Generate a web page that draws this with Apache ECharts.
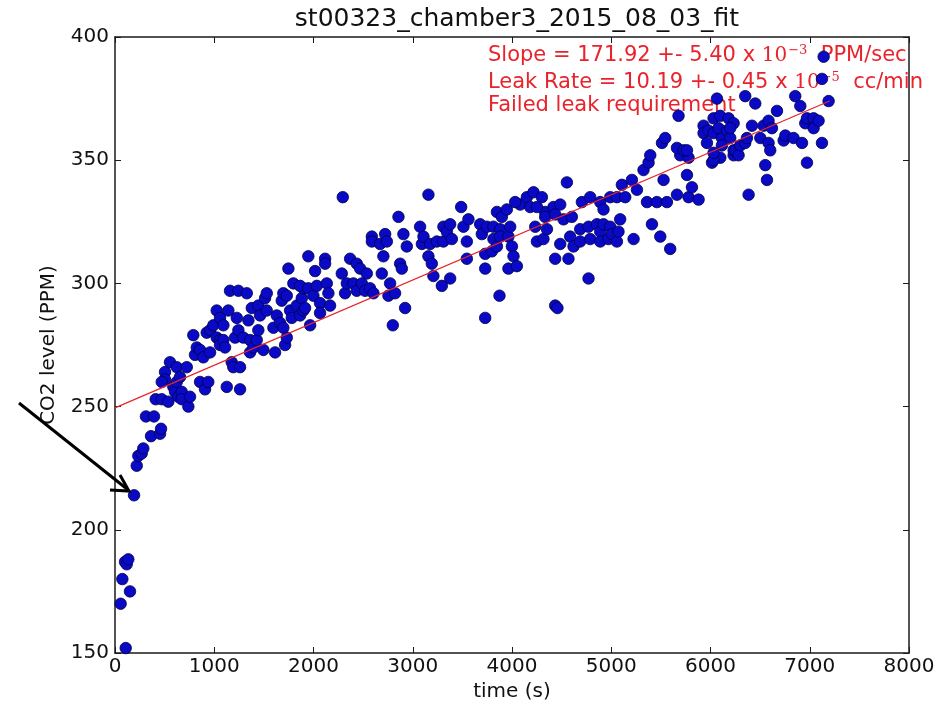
<!DOCTYPE html>
<html>
<head>
<meta charset="utf-8">
<script src="https://cdn.jsdelivr.net/npm/echarts@6/dist/echarts.min.js"></script>
<style>
  html, body { margin: 0; padding: 0; background: #fff; }
  #chart { width: 946px; height: 712px; }
</style>
</head>
<body>
<div id="chart"></div>
<script>
const chartTitle = 'st00323_chamber3_2015_08_03_fit'
const xTicks = [0, 1000, 2000, 3000, 4000, 5000, 6000, 7000, 8000]
const yTicks = [150, 200, 250, 300, 350, 400]

// [time (s), CO2 (PPM)]
const earlyPoints = [
  [57, 170], [74, 180], [101, 187], [108, 152], [118, 186], [134, 188], [151, 175], [192, 214],
  [219, 226], [235, 230], [269, 231], [285, 233], [312, 246], [363, 238], [393, 246], [410, 253],
  [454, 239], [464, 241], [471, 253], [537, 252]
]
const risePoints = [
  [504, 264], [504, 261], [471, 260], [554, 268], [588, 258], [605, 256], [622, 266], [622, 260],
  [638, 254], [655, 262], [672, 256], [672, 253], [723, 266], [739, 250], [756, 254], [789, 279],
  [806, 271], [824, 274], [857, 273], [857, 260], [890, 270], [907, 257], [924, 280], [940, 260],
  [958, 281], [958, 272], [991, 283], [1025, 289], [1025, 278], [1058, 286], [1058, 277], [1058, 275],
  [1092, 283], [1092, 277], [1109, 274], [1126, 258], [1142, 289], [1159, 297], [1176, 268], [1192, 266],
  [1210, 278], [1227, 286], [1243, 297], [1243, 281], [1260, 266], [1260, 257], [1293, 278], [1328, 296],
  [1344, 285], [1361, 277], [1361, 272], [1378, 290], [1394, 274], [1428, 277], [1444, 291], [1444, 281],
  [1462, 287], [1495, 273], [1512, 294], [1529, 296], [1529, 289], [1596, 282], [1613, 272], [1630, 287],
  [1663, 284], [1680, 293], [1696, 296], [1696, 282], [1714, 275], [1731, 295], [1731, 278], [1747, 306],
  [1764, 289], [1781, 286], [1797, 300], [1832, 291], [1865, 287], [1882, 294], [1898, 298], [1898, 289],
  [1948, 311]
]
const midPoints = [
  [1865, 299], [1915, 290], [1948, 298], [1966, 283], [1999, 295], [2016, 305], [2033, 299], [2066, 292],
  [2066, 288], [2117, 310], [2117, 308], [2134, 300], [2150, 296], [2167, 291], [2285, 304], [2295, 335],
  [2318, 296], [2336, 300], [2369, 310], [2402, 300], [2436, 308], [2436, 297], [2470, 306], [2487, 300],
  [2520, 297], [2537, 304], [2570, 298], [2588, 319], [2588, 317], [2604, 296], [2671, 316], [2688, 304],
  [2704, 311], [2722, 320], [2739, 317], [2755, 295], [2772, 300], [2799, 283], [2822, 296], [2856, 327],
  [2873, 308], [2890, 306], [2906, 320], [2923, 290], [2940, 315], [3074, 323], [3092, 316], [3108, 319],
  [3158, 336], [3158, 311], [3175, 316], [3192, 308], [3208, 303], [3243, 317], [3293, 299], [3309, 317],
  [3309, 323], [3344, 321], [3377, 324], [3377, 302], [3394, 318], [3488, 331], [3511, 323], [3545, 317],
  [3545, 310], [3561, 326], [3679, 324], [3696, 320], [3730, 312], [3730, 306], [3730, 286], [3747, 323],
  [3797, 313], [3813, 323], [3813, 318], [3848, 329], [3848, 315], [3874, 295], [3881, 322], [3881, 319],
  [3898, 327], [3948, 330], [3964, 319], [3964, 306], [3982, 323], [3999, 315], [4015, 311], [4049, 307],
  [4082, 332], [4150, 335], [4183, 331], [4217, 337], [4234, 323], [4251, 317], [4301, 335], [4317, 318],
  [4334, 329], [4334, 327], [4352, 322], [4418, 331], [4435, 310], [4435, 291], [4486, 332]
]
const latePoints = [
  [4032, 333], [4251, 331], [4435, 328], [4458, 290], [4486, 316], [4519, 326], [4553, 341], [4569, 310],
  [4586, 319], [4603, 327], [4620, 315], [4687, 317], [4687, 322], [4704, 333], [4771, 323], [4771, 302],
  [4788, 335], [4788, 318], [4856, 324], [4889, 333], [4889, 321], [4889, 317], [4922, 324], [4922, 330],
  [4972, 318], [4990, 323], [4990, 335], [5007, 320], [5057, 317], [5057, 335], [5073, 321], [5090, 326],
  [5107, 340], [5141, 335], [5208, 342], [5225, 318], [5259, 338], [5325, 346], [5360, 333], [5376, 349],
  [5393, 352], [5410, 324], [5460, 333], [5494, 319], [5527, 342], [5561, 333], [5594, 314], [5662, 336],
  [5695, 352], [5763, 344], [5779, 335], [5779, 351], [5813, 339], [5880, 334], [6015, 349], [6099, 351],
  [6233, 352]
]
const endPoints = [
  [5511, 357], [5544, 359], [5662, 355], [5678, 368], [5729, 354], [5763, 354], [5930, 364], [5930, 361],
  [5964, 357], [5980, 362], [6031, 367], [6031, 361], [6031, 350], [6065, 375], [6081, 363], [6098, 368],
  [6115, 359], [6166, 362], [6182, 367], [6199, 359], [6233, 365], [6233, 354], [6031, 353], [6115, 356],
  [6199, 363], [6250, 354], [6283, 352], [6300, 356], [6350, 376], [6350, 357], [6367, 359], [6384, 336],
  [6418, 364], [6451, 373], [6502, 359], [6535, 364], [6552, 348], [6569, 342], [6585, 366], [6585, 357],
  [6602, 354], [6619, 363], [6670, 370], [6737, 358], [6754, 360], [6837, 359], [6854, 376], [6905, 372],
  [6922, 357], [6955, 365], [6972, 367], [6972, 349], [7039, 367], [7039, 363], [7089, 366], [7123, 383],
  [7123, 357], [7140, 392], [7190, 374]
]
const fitLine = [[0, 249.5], [7200, 374]]

const FONT = 'DejaVu Sans'
const RED = '#e8232b'

const chart = echarts.init(document.getElementById('chart'), null, { renderer: 'canvas' })

const axisCommon = {
  axisLine: { show: true, onZero: false, lineStyle: { color: '#1a1a1a', width: 1.5 } },
  axisTick: { show: true, inside: true, length: 6, lineStyle: { color: '#1a1a1a', width: 1 } },
  splitLine: { show: false }
}

const supStyle = { fontFamily: 'DejaVu Serif', fontSize: 13, fill: RED, verticalAlign: 'top', padding: [0, 0, 10, 1] }

chart.setOption({
  animation: false,
  backgroundColor: '#fff',
  title: {
    text: chartTitle,
    left: 512,
    top: 2,
    textAlign: 'center',
    textStyle: { fontFamily: FONT, fontSize: 25, fontWeight: 'normal', color: '#111' }
  },
  grid: { left: 115, right: 37, top: 37, bottom: 59 },
  xAxis: [
    {
      type: 'value', min: xTicks[0], max: xTicks[xTicks.length - 1], interval: 1000,
      name: 'time (s)', nameLocation: 'middle', nameGap: 25,
      nameTextStyle: { fontFamily: FONT, fontSize: 20, color: '#111' },
      axisLabel: { fontFamily: FONT, fontSize: 20, color: '#111', margin: 4, formatter: v => String(v) },
      ...axisCommon
    },
    {
      type: 'value', position: 'top', min: 0, max: 8000, interval: 1000,
      axisLabel: { show: false }, ...axisCommon
    }
  ],
  yAxis: [
    {
      type: 'value', min: yTicks[0], max: yTicks[yTicks.length - 1], interval: 50,
      name: 'CO2 level (PPM)', nameLocation: 'middle', nameGap: 56,
      nameTextStyle: { fontFamily: FONT, fontSize: 20, color: '#111' },
      axisLabel: { fontFamily: FONT, fontSize: 20, color: '#111', margin: 6 },
      ...axisCommon
    },
    {
      type: 'value', position: 'right', min: 150, max: 400, interval: 50,
      axisLabel: { show: false }, ...axisCommon
    }
  ],
  series: [
    {
      type: 'scatter',
      data: [...earlyPoints, ...risePoints, ...midPoints, ...latePoints, ...endPoints],
      symbol: 'circle',
      symbolSize: 11.5,
      itemStyle: { color: '#0a0ac6', borderColor: '#00004a', borderWidth: 0.8, opacity: 1 },
      z: 3
    },
    {
      type: 'line',
      data: fitLine,
      symbol: 'none',
      lineStyle: { color: RED, width: 1.2 },
      z: 4
    }
  ],
  graphic: [
    {
      type: 'text', left: 488, top: 44, z: 1,
      style: {
        text: 'Slope = 171.92 +- 5.40 x {m|10}{s|−3}  PPM/sec',
        font: '21px "DejaVu Sans"', fill: RED,
        rich: { m: { fontFamily: 'DejaVu Serif', fontSize: 20, fill: RED }, s: supStyle }
      }
    },
    {
      type: 'text', left: 488, top: 71, z: 1,
      style: {
        text: 'Leak Rate = 10.19 +- 0.45 x {m|10}{s|−5}  cc/min',
        font: '21px "DejaVu Sans"', fill: RED,
        rich: { m: { fontFamily: 'DejaVu Serif', fontSize: 20, fill: RED }, s: supStyle }
      }
    },
    {
      type: 'text', left: 488, top: 95, z: 1,
      style: { text: 'Failed leak requirement', font: '21px "DejaVu Sans"', fill: RED }
    },
    {
      type: 'line', z: 10,
      shape: { x1: 19, y1: 403, x2: 127, y2: 489 },
      style: { stroke: '#000', lineWidth: 3 }
    },
    {
      type: 'polyline', z: 10,
      shape: { points: [[120, 475], [129, 491], [110, 490]] },
      style: { stroke: '#000', lineWidth: 3, fill: null }
    }
  ]
})
</script>
</body>
</html>
